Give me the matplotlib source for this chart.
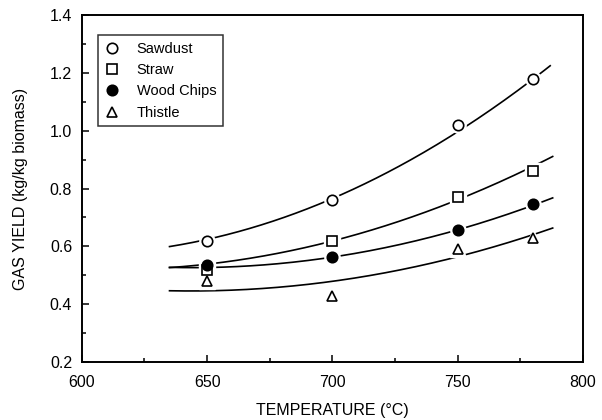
import matplotlib
matplotlib.use("Agg")
import matplotlib.pyplot as plt
import numpy as np
from matplotlib.ticker import MultipleLocator, FormatStrFormatter

plt.rcParams["font.family"] = ["Liberation Sans", "DejaVu Sans"]

# measured yields
temps = [650, 700, 750, 780]
sawdust = [0.62, 0.76, 1.02, 1.18]
straw = [0.52, 0.62, 0.77, 0.86]
wood_chips = [0.535, 0.565, 0.655, 0.745]
thistle = [0.48, 0.43, 0.59, 0.63]

# points along each correlation curve
sawdust_fit_t = [635, 650, 700, 727, 750, 787]
sawdust_fit = [0.608, 0.615, 0.757, 0.888, 1.00, 1.221]
straw_fit_t = [635, 655, 700, 750, 788]
straw_fit = [0.530, 0.541, 0.613, 0.770, 0.907]
wood_fit_t = [635, 655, 700, 750, 780, 788]
wood_fit = [0.525, 0.530, 0.567, 0.651, 0.740, 0.772]
thistle_fit_t = [635, 650, 700, 751, 780, 788]
thistle_fit = [0.447, 0.446, 0.478, 0.570, 0.633, 0.668]

series = [
    ("Sawdust", sawdust, sawdust_fit_t, sawdust_fit, "o", "white"),
    ("Straw", straw, straw_fit_t, straw_fit, "s", "white"),
    ("Wood Chips", wood_chips, wood_fit_t, wood_fit, "o", "black"),
    ("Thistle", thistle, thistle_fit_t, thistle_fit, "^", "white"),
]

fig = plt.figure(figsize=(6.02, 4.2), dpi=100)
ax = fig.add_axes([0.136, 0.138, 0.832, 0.826])

for name, ys, ft, fy, mk, fc in series:
    coef = np.polyfit(ft, fy, 2)
    xs = np.linspace(ft[0], ft[-1], 200)
    ax.plot(xs, np.polyval(coef, xs), color="black", lw=1.2, zorder=2)
    # white halo so the curve breaks around each symbol
    ax.plot(temps, ys, ls="none", marker=mk, ms=11, mfc="white", mec="white", zorder=3)
    ax.plot(temps, ys, ls="none", marker=mk, ms=7.5, mfc=fc, mec="black", mew=1.2,
            label=name, zorder=4)

ax.set_xlim(600, 800)
ax.set_ylim(0.2, 1.4)
ax.xaxis.set_major_locator(MultipleLocator(50))
ax.xaxis.set_minor_locator(MultipleLocator(25))
ax.yaxis.set_major_locator(MultipleLocator(0.2))
ax.yaxis.set_minor_locator(MultipleLocator(0.1))
ax.yaxis.set_major_formatter(FormatStrFormatter("%.1f"))
ax.tick_params(which="both", direction="in", labelsize=11.5, width=1.1)
ax.tick_params(axis="x", pad=9)
ax.tick_params(axis="y", pad=7)
ax.tick_params(which="major", length=5)
ax.tick_params(which="minor", length=3)
for s in ax.spines.values():
    s.set_linewidth(1.4)

ax.set_xlabel("TEMPERATURE (°C)", fontsize=11.5, labelpad=10)
ax.set_ylabel("GAS YIELD (kg/kg biomass)", fontsize=11.5, labelpad=16)

leg = ax.legend(loc="upper left", bbox_to_anchor=(0.032, 0.942), fontsize=10.5,
                frameon=True, fancybox=False, edgecolor="black", handlelength=1.0,
                handletextpad=1.2, borderpad=0.45, labelspacing=0.5,
                borderaxespad=0)
leg.get_frame().set_linewidth(1.1)

fig.savefig("out.png", dpi=100, facecolor="white")
